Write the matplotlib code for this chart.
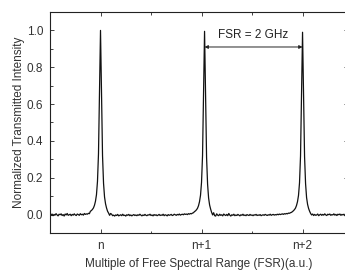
import numpy as np
import matplotlib
matplotlib.use("Agg")
import matplotlib.pyplot as plt
from matplotlib.ticker import MultipleLocator, FormatStrFormatter

# sample grid: -0.49 ... 2.45 in steps of 0.01 (units of FSR)
x_start, x_stop, x_step = -0.49, 2.45, 0.01

# transmitted intensity, one value per grid step
intensity = [
    # baseline left of n
    -0.004, 0.003, -0.006, 0.001, -0.003, 0.005, -0.002, -0.007, 0.002, -0.001,
    0.004, -0.005, 0.000, -0.008, 0.003, -0.002, 0.006, -0.004, -0.001, 0.002,
    -0.006, 0.001, -0.003, 0.004, -0.002, -0.005, 0.003, 0.000, -0.004, 0.005,
    -0.001, 0.002, -0.003, 0.006, 0.001, 0.004, 0.002, 0.007, 0.005,
    # peak n
    0.018, 0.022, 0.028, 0.036, 0.050, 0.072, 0.108, 0.180, 0.330, 0.660,
    1.000, 0.650, 0.320, 0.170, 0.095, 0.058, 0.035, 0.018, 0.008, -0.004, 0.006,
    # baseline n .. n+1
    0.002, -0.006, -0.003, -0.008, -0.002, -0.005, 0.001, -0.007, -0.004, -0.001,
    -0.006, 0.002, -0.005, -0.003, -0.008, -0.001, -0.004, 0.001, -0.006, -0.002,
    -0.007, -0.003, 0.000, -0.005, -0.002, -0.006, -0.001, -0.004, 0.002, -0.003,
    -0.007, -0.002, -0.005, 0.001, -0.004, -0.006, -0.001, -0.003, 0.002, -0.005,
    -0.002, -0.007, 0.000, -0.004, -0.001, -0.006, -0.003, 0.001, -0.005, -0.002,
    -0.004, 0.002, -0.006, -0.001, -0.003, -0.007, 0.000, -0.004, -0.002, 0.001,
    -0.005, -0.003, 0.002, -0.001, -0.004, 0.001, -0.002, 0.003, -0.003, 0.000,
    0.002, -0.001, 0.004, 0.001, 0.003, 0.000, 0.005, 0.002, 0.006, 0.004,
    0.008, 0.010,
    # peak n+1
    0.016, 0.020, 0.026, 0.034, 0.048, 0.070, 0.105, 0.175, 0.320, 0.650,
    0.995, 0.640, 0.310, 0.165, 0.090, 0.052, 0.030, 0.012, -0.002, 0.010, -0.006,
    # baseline n+1 .. n+2
    -0.008, 0.004, -0.003, -0.006, 0.002, -0.004, -0.001, -0.007, 0.003, -0.002,
    -0.005, 0.001, -0.006, 0.006, -0.003, -0.008, -0.001, -0.004, 0.002, -0.006,
    -0.002, -0.005, 0.001, -0.003, -0.007, -0.001, -0.004, 0.002, -0.005, -0.002,
    -0.006, 0.000, -0.003, -0.005, 0.001, -0.004, -0.002, -0.006, -0.001, -0.003,
    0.001, -0.005, -0.002, -0.004, 0.000, -0.006, -0.003, -0.001, -0.004, 0.001,
    -0.002, -0.005, -0.001, -0.003, 0.002, -0.004, -0.001, 0.001, -0.003, 0.000,
    -0.002, 0.002, -0.001, 0.003, 0.000, 0.002, 0.004, 0.001, 0.005, 0.003,
    0.006, 0.004, 0.008, 0.007, 0.010, 0.012,
    # peak n+2
    0.016, 0.021, 0.027, 0.035, 0.049, 0.070, 0.104, 0.172, 0.318, 0.640,
    0.990, 0.645, 0.315, 0.168, 0.092, 0.055, 0.033, 0.018, 0.006, -0.002, 0.003,
    # baseline right of n+2
    -0.005, 0.001, -0.004, -0.002, 0.003, -0.006, -0.001, 0.002, -0.004, 0.001,
    -0.003, 0.004, -0.002, -0.005, 0.002, -0.001, 0.003, -0.004, 0.000, -0.002,
    0.004, -0.003, 0.001, -0.005, 0.002, -0.001, 0.003, -0.004, 0.001, -0.002,
    0.002, -0.006, 0.000, -0.003, 0.002,
]

tick_pos = [0, 1, 2]
tick_labels = ["n", "n+1", "n+2"]
fsr_ends = [1.03, 2.0]
fsr_level = 0.91
fsr_text = "FSR = 2 GHz"

plt.rcParams["font.family"] = ["Liberation Sans", "DejaVu Sans"]
plt.rcParams["font.size"] = 8.5

x = np.round(np.arange(x_start, x_stop + x_step / 2, x_step), 2)
y = np.array(intensity)

fig = plt.figure(figsize=(3.45, 2.70), dpi=100)
ax = fig.add_axes([50 / 345, 1 - 233 / 270, 298 / 345, 221 / 270])

ax.plot(x, y, color="#111111", lw=0.9)

ax.set_xlim(-0.5, 2.45)
ax.set_ylim(-0.1, 1.1)
ax.set_xticks(tick_pos)
ax.set_xticklabels(tick_labels)
ax.xaxis.set_minor_locator(MultipleLocator(0.5))
ax.yaxis.set_major_locator(MultipleLocator(0.2))
ax.yaxis.set_minor_locator(MultipleLocator(0.1))
ax.yaxis.set_major_formatter(FormatStrFormatter("%.1f"))
ax.tick_params(which="both", direction="in", top=True, right=True,
               width=0.6, colors="#222222", labelcolor="#333333")
ax.tick_params(which="major", length=3, pad=5)
ax.tick_params(which="minor", length=1.8)
for s in ax.spines.values():
    s.set_linewidth(0.8)
    s.set_color("#222222")

ax.set_xlabel("Multiple of Free Spectral Range (FSR)(a.u.)", color="#333333", labelpad=4)
ax.set_ylabel("Normalized Transmitted Intensity", color="#333333", labelpad=1)

ax.annotate("", xy=(fsr_ends[0], fsr_level), xytext=(fsr_ends[1], fsr_level),
            arrowprops=dict(arrowstyle="<|-|>", color="#222222", lw=0.7,
                            mutation_scale=5, shrinkA=0, shrinkB=0))
ax.text(sum(fsr_ends) / 2, 0.975, fsr_text, ha="center", va="center",
        color="#222222")

fig.savefig("out.png", dpi=100)
